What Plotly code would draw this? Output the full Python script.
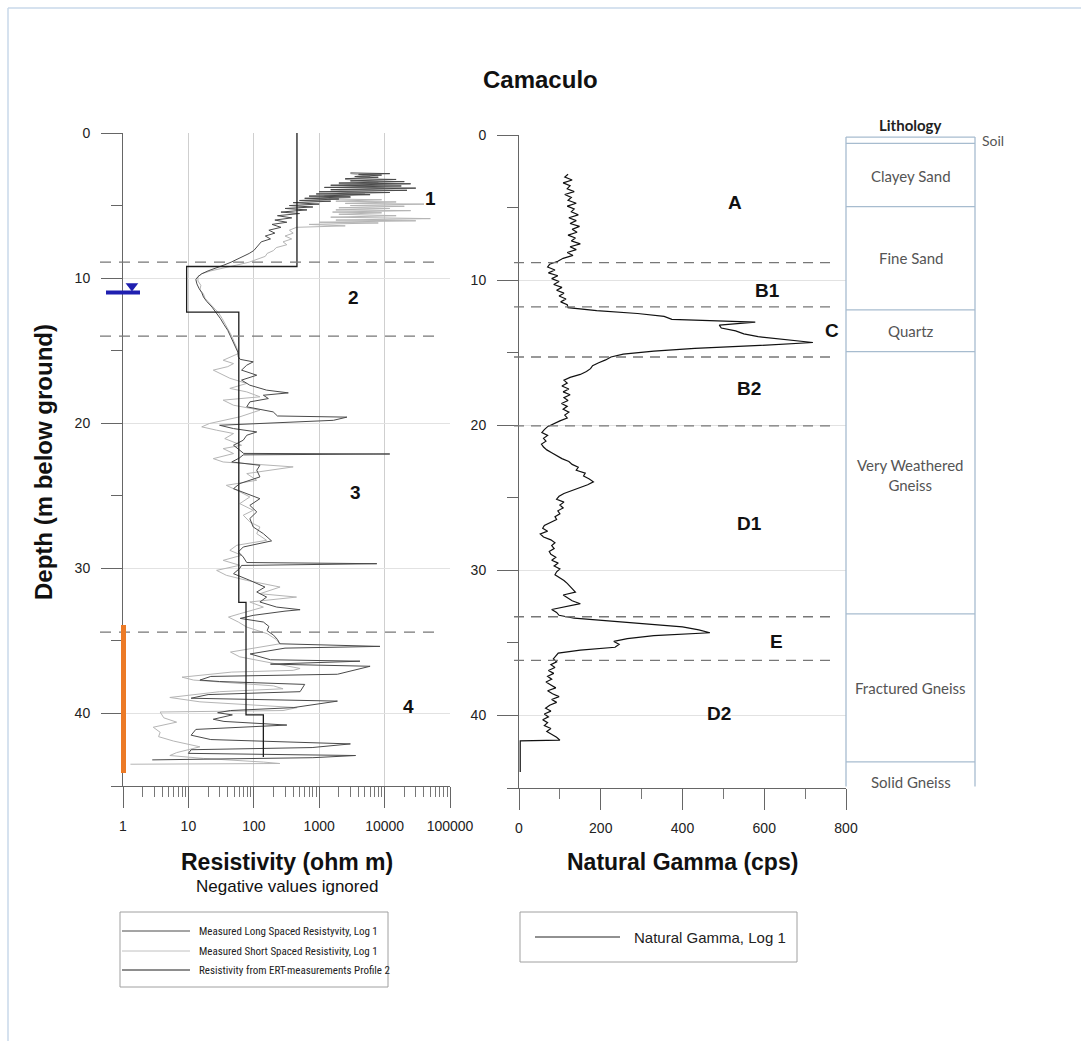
import plotly.graph_objects as go

# ---------------- borehole log data ----------------
# Long spaced resistivity (ohm m) versus depth (m)
LONG_DEPTH = [2.75, 2.8, 2.85, 2.9, 3.0, 3.05, 3.15, 3.2, 3.3, 3.35, 3.45, 3.5, 3.6, 3.65, 3.75, 3.8,
              3.9, 3.95, 4.05, 4.1, 4.2, 4.25, 4.35, 4.4, 4.5, 4.55, 4.65, 4.7, 4.8, 4.9, 5.0, 5.1,
              5.2, 5.3, 5.45, 5.55, 5.7, 5.85, 6.0, 6.15, 6.3, 6.5, 6.7, 6.9, 7.1, 7.3, 7.5, 7.7,
              7.9, 8.1, 8.3, 8.5, 8.7, 8.9, 9.1, 9.3, 9.5, 9.7, 9.9, 10.1, 10.4, 10.7, 11.0, 11.3,
              11.6, 12.0, 12.4, 12.8, 13.2, 13.6, 14.0, 14.4, 14.8, 15.1,
              15.43, 15.6, 15.77, 16.0, 16.34, 16.69, 17.03, 17.38, 17.72, 17.91, 18.07, 18.3, 18.53,
              18.87, 19.22, 19.5, 19.58, 19.8, 20.14, 20.37, 20.6, 20.83, 21.17, 21.52, 21.86, 22.08,
              22.12, 22.18, 22.4, 22.67, 22.9, 23.24, 23.7, 24.16, 24.51, 24.85, 25.2, 25.66, 26.11,
              26.57, 27.15, 27.61, 28.11, 28.53, 28.87, 29.22, 29.6, 29.68, 29.8, 30.0, 30.37, 30.83,
              31.29, 31.63, 31.98, 32.32, 32.67, 32.85, 32.95, 33.24, 33.45, 33.7, 34.0, 34.3, 34.6,
              34.9, 35.2, 35.38, 35.5, 35.9, 36.3, 36.4, 36.6, 36.75, 37.3, 37.45, 37.7, 37.8, 38.0,
              38.5, 38.7, 38.95, 39.15, 39.6, 39.8, 39.95, 40.1, 40.4, 40.55, 40.8, 41.1, 41.5, 41.8,
              42.1, 42.35, 42.5, 42.75, 42.9, 43.05, 43.2]
LONG_RES = [3000, 12000, 4000, 9000, 3500, 8000, 2500, 15000, 3000, 20000, 2000, 25000, 1500, 18000,
            1200, 30000, 1500, 22000, 1000, 12000, 900, 6000, 700, 3000, 600, 2000, 500, 1500, 400,
            1000, 350, 800, 300, 650, 260, 500, 230, 380, 210, 320, 190, 260, 170, 210, 150, 180, 130,
            120, 110, 100, 85, 70, 55, 45, 35, 26, 20, 16, 14, 13, 13.5, 14.5, 16, 17, 19, 23, 27, 31,
            35, 40, 44, 48, 53, 57,
            58, 62, 98, 78, 65, 111, 65, 87, 157, 337, 140, 167, 87, 78, 198, 230, 2650, 1650, 30, 49,
            111, 78, 69, 49, 61, 70, 12000, 69, 60, 46, 124, 111, 124, 61, 49, 78, 124, 87, 111, 87,
            98, 140, 187, 69, 58, 69, 78, 7600, 65, 61, 49, 87, 148, 111, 157, 124, 224, 510, 300, 98,
            62, 140, 170, 160, 200, 230, 250, 8500, 300, 88, 180, 4200, 180, 6000, 1900, 22, 15, 30,
            600, 510, 20, 11, 1900, 400, 44, 28, 47, 24, 35, 320, 13, 11, 22, 3000, 780, 11, 10, 3600,
            800, 2.8]

# Short spaced resistivity (ohm m) versus depth (m)
SHORT_DEPTH = [2.8, 3.0, 3.2, 3.4, 3.6, 3.8, 4.0, 4.2, 4.35, 4.45, 4.55, 4.6, 4.7, 4.75, 4.85, 4.9,
               5.0, 5.05, 5.15, 5.2, 5.3, 5.35, 5.45, 5.5, 5.6, 5.7, 5.8, 5.9, 6.0, 6.05, 6.15, 6.2,
               6.3, 6.4, 6.5, 6.7, 6.9, 7.1, 7.3, 7.5, 7.7, 7.9, 8.1, 8.3, 8.5, 8.7, 8.9, 9.1, 9.3,
               9.5, 9.7, 9.9, 10.2, 10.5, 10.8, 11.1, 11.4, 11.7, 12.0, 12.4, 12.8, 13.2, 13.6, 14.0,
               14.4, 14.8, 15.2,
               15.66, 15.89, 16.1, 16.34, 16.57, 16.9, 17.26, 17.6, 17.84, 18.18, 18.41, 18.76, 19.1,
               19.56, 20.02, 20.25, 20.48, 20.71, 21.06, 21.52, 21.75, 22.09, 22.44, 22.67, 23.01,
               23.24, 23.47, 23.93, 24.28, 24.62, 25.08, 25.54, 26.0, 26.34, 26.8, 27.15, 27.61, 28.07,
               28.41, 28.76, 29.1, 29.45, 29.79, 30.14, 30.48, 30.83, 31.29, 31.75, 31.98, 32.32,
               32.67, 33.13, 33.36, 33.7, 34.05, 34.5, 34.9, 35.2, 35.77, 36.1, 36.6, 36.9, 37.03,
               37.15, 37.5, 37.7, 38.1, 38.3, 38.5, 38.9, 39.2, 39.6, 39.8, 39.9, 40.3, 40.6, 40.95,
               41.3, 41.6, 41.9, 42.3, 42.7, 42.9, 43.1, 43.35, 43.45, 43.5]
SHORT_RES = [3000, 6000, 2500, 8000, 2000, 10000, 1500, 5000, 1200, 3000, 1400, 9000, 1800, 15000,
             2500, 40000, 3000, 20000, 2000, 12000, 1800, 25000, 1600, 9000, 2000, 15000, 1500, 50000,
             1800, 30000, 1000, 8000, 700, 2500, 450, 350, 400, 300, 380, 280, 320, 220, 200, 160, 150,
             115, 85, 55, 35, 22, 16, 14, 14, 15.5, 15, 17, 18, 21, 24, 29, 33, 37, 42, 46, 50, 55, 58,
             34, 49, 40, 24, 30, 43, 78, 43, 78, 124, 34, 49, 124, 61, 21, 16, 27, 49, 36, 65, 34, 49,
             24, 34, 400, 180, 78, 111, 38, 55, 87, 61, 98, 69, 87, 124, 111, 157, 55, 43, 65, 34, 61,
             27, 38, 78, 252, 124, 450, 87, 140, 61, 41, 58, 78, 160, 220, 250, 44, 61, 250, 510, 400,
             46, 8, 12, 200, 280, 30, 5.2, 15, 460, 280, 3.7, 4.2, 6.6, 2.9, 3.7, 3.5, 5.9, 15, 6.6,
             5.2, 17, 140, 250, 1.3]

# Resistivity from ERT profile 2: layer tops, bottoms and values
ERT_TOP = [0.0, 9.2, 12.35, 32.35, 40.1]
ERT_BOTTOM = [9.2, 12.35, 32.35, 40.1, 43.0]
ERT_RES = [457, 9.4, 59, 76, 140]

# Natural gamma (cps), sampled every 0.2 m from 2.7 m
GAMMA_START = 2.7
GAMMA_STEP = 0.2
GAMMA_CPS = [120, 112, 130, 108, 125, 118, 135, 112, 128, 120, 140, 118, 135, 128, 145, 122, 140, 125,
             148, 130, 142, 120, 138, 128, 150, 125, 140, 118, 132, 108, 95,
             75, 70, 88, 72, 95, 80, 98, 85, 105, 92, 110, 98, 115, 102, 118,
             120, 190, 290, 355, 374, 578, 490, 495, 530, 550, 585, 660, 719, 590, 430, 330, 255, 225,
             212, 195, 180, 175, 165, 150, 125, 110,
             118, 105, 122, 108, 125, 110, 120, 104, 118, 108, 122, 112, 118, 100, 85,
             70, 62, 56, 70, 60, 66, 55, 60, 68, 80, 92, 105, 122, 130, 145, 140, 162, 158, 172, 182,
             168, 150, 128, 110, 98, 92, 110, 100, 108, 95, 100, 88, 92, 75, 62, 58, 70, 52, 60, 78,
             88, 80, 86, 74, 78, 90, 80, 96, 86, 100, 92, 88, 100, 110, 118, 125, 132, 138, 108, 118,
             130, 150, 110, 80, 92, 98, 135,
             230, 315, 400, 440, 467, 330, 265, 232, 245, 235, 150, 96, 90, 84, 92, 78, 88, 72, 85, 70,
             80, 66, 78, 90, 70, 82, 98, 80, 92, 75, 65, 78, 62, 72, 58, 70, 62, 78, 68, 82, 92, 100]
GAMMA_TAIL_DEPTH = [41.75, 43.9]
GAMMA_TAIL_CPS = [3, 3]

# Interpreted zone boundaries (m)
RES_ZONE_BOUNDS = [8.9, 14.0, 34.4]
GAMMA_ZONE_BOUNDS = [8.8, 11.85, 15.3, 20.05, 33.2, 36.2]

# Lithology column
LITH_TOPS = [0.14, 0.58, 4.93, 12.05, 14.93, 33.0, 43.2]
LITH_BASE = 44.9
LITH_NAMES = ["Clayey Sand", "Fine Sand", "Quartz", "Very Weathered<br>Gneiss",
              "Fractured Gneiss", "Solid Gneiss"]
LITH_LABEL_DEPTH = [2.8, 8.5, 13.5, 23.4, 38.1, 44.6]

WATER_LEVEL = 11.0
SCREEN_TOP, SCREEN_BOTTOM = 33.9, 44.1

RES_TICKS = [1, 10, 100, 1000, 10000, 100000]
RES_TICK_TEXT = ["1", "10", "100", "1000", "10000", "100000"]
GAMMA_TICKS = [0, 200, 400, 600, 800]
DEPTH_TICKS = [0, 10, 20, 30, 40]

# ---------------- page geometry helpers ----------------
W, H = 1081, 1041


def px(x):
    return x / W


def py(y):
    return 1 - y / H


ARIAL = "Liberation Sans, Arial, sans-serif"
NARROW = "Liberation Sans Narrow, Arial Narrow, Roboto Condensed, Liberation Sans, sans-serif"
CALIBRI = "Lato, Open Sans, sans-serif"

fig = go.Figure()

fig.add_trace(go.Scatter(x=SHORT_RES, y=SHORT_DEPTH, mode="lines",
                         line=dict(color="#b5b5b5", width=1), xaxis="x", yaxis="y",
                         showlegend=False, hoverinfo="skip"))
fig.add_trace(go.Scatter(x=LONG_RES, y=LONG_DEPTH, mode="lines",
                         line=dict(color="#4a4a4a", width=1), xaxis="x", yaxis="y",
                         showlegend=False, hoverinfo="skip"))

ert_x, ert_y = [], []
for top, bot, val in zip(ERT_TOP, ERT_BOTTOM, ERT_RES):
    ert_x += [val, val]
    ert_y += [top, bot]
fig.add_trace(go.Scatter(x=ert_x, y=ert_y, mode="lines",
                         line=dict(color="#1c1c1c", width=1.3), xaxis="x", yaxis="y",
                         showlegend=False, hoverinfo="skip"))

gamma_depth = [round(GAMMA_START + GAMMA_STEP * i, 2) for i in range(len(GAMMA_CPS))]
fig.add_trace(go.Scatter(x=GAMMA_CPS + GAMMA_TAIL_CPS, y=gamma_depth + GAMMA_TAIL_DEPTH,
                         mode="lines", line=dict(color="#111111", width=1.2),
                         xaxis="x2", yaxis="y2", showlegend=False, hoverinfo="skip"))

# water level symbol
fig.add_trace(go.Scatter(x=[1.37], y=[WATER_LEVEL - 0.45], mode="markers",
                         marker=dict(symbol="triangle-down", size=11, color="#1f1fb0"),
                         cliponaxis=False, xaxis="x", yaxis="y", showlegend=False,
                         hoverinfo="skip"))

tickfont = dict(family=ARIAL, size=14, color="#222")
common_y = dict(range=[45, 0], tickvals=DEPTH_TICKS, ticks="outside", ticklen=21,
                tickcolor="#666", showline=True, linecolor="#666", linewidth=1,
                showgrid=True, gridcolor="#e2e2e2", gridwidth=1, zeroline=False,
                tickfont=tickfont, ticklabelstandoff=8, automargin=False,
                minor=dict(tickvals=[5, 15, 25, 35, 45], ticks="outside", ticklen=11,
                           tickcolor="#666", showgrid=False))

fig.update_layout(
    template="none",
    width=W, height=H, autosize=False, margin=dict(l=0, r=0, t=0, b=0, pad=0),
    paper_bgcolor="white", plot_bgcolor="white",
    xaxis=dict(type="log", domain=[px(123), px(450)], range=[0, 5], anchor="y",
               tickvals=RES_TICKS, ticktext=RES_TICK_TEXT, ticks="outside", ticklen=21,
               tickcolor="#666", showline=True, linecolor="#666", linewidth=1,
               showgrid=True, gridcolor="#cfcfcf", zeroline=False, tickfont=tickfont,
               ticklabelstandoff=6, automargin=False,
               minor=dict(tickvals=[m * 10 ** k for k in range(5) for m in range(2, 10)],
                          ticks="outside", ticklen=10, tickcolor="#777", showgrid=False)),
    yaxis=dict(domain=[py(786), py(133)], anchor="x", **common_y),
    xaxis2=dict(domain=[px(519), px(846)], range=[0, 800], anchor="y2",
                tickvals=GAMMA_TICKS, ticks="outside", ticklen=21, tickcolor="#666",
                showline=True, linecolor="#666", linewidth=1, showgrid=False,
                zeroline=False, tickfont=tickfont, ticklabelstandoff=6, automargin=False,
                minor=dict(tickvals=[100, 300, 500, 700], ticks="outside", ticklen=10,
                           tickcolor="#777", showgrid=False)),
    yaxis2=dict(domain=[py(788), py(135)], anchor="x2", **common_y),
)

shapes = []
# page frame (left and top edges)
shapes.append(dict(type="line", xref="paper", yref="paper", x0=px(8), x1=px(8),
                   y0=0, y1=py(8), line=dict(color="#c9d8ea", width=1.5)))
shapes.append(dict(type="line", xref="paper", yref="paper", x0=px(8), x1=1,
                   y0=py(8), y1=py(8), line=dict(color="#c9d8ea", width=1.5)))
# zone boundaries
for d in RES_ZONE_BOUNDS:
    shapes.append(dict(type="line", xref="paper", yref="y", x0=px(100), x1=px(438), y0=d, y1=d,
                       line=dict(color="#777", width=1.3, dash="11px,8px")))
for d in GAMMA_ZONE_BOUNDS:
    shapes.append(dict(type="line", xref="paper", yref="y2", x0=px(514), x1=px(833), y0=d, y1=d,
                       line=dict(color="#777", width=1.3, dash="10px,7px")))
# water level bar
shapes.append(dict(type="line", xref="paper", yref="y", x0=px(106), x1=px(140),
                   y0=WATER_LEVEL, y1=WATER_LEVEL, line=dict(color="#1f1fb0", width=4)))
# screened interval
shapes.append(dict(type="line", xref="paper", yref="y", x0=px(123.5), x1=px(123.5),
                   y0=SCREEN_TOP, y1=SCREEN_BOTTOM, line=dict(color="#ec7a26", width=5)))
# lithology column
lith_col = "#a7bccf"
for xx in (846, 975):
    shapes.append(dict(type="line", xref="paper", yref="y2", x0=px(xx), x1=px(xx),
                       y0=LITH_TOPS[0], y1=LITH_BASE, line=dict(color=lith_col, width=1.3)))
for d in LITH_TOPS:
    shapes.append(dict(type="line", xref="paper", yref="y2", x0=px(846), x1=px(975),
                       y0=d, y1=d, line=dict(color=lith_col, width=1.3)))
# legend boxes
shapes.append(dict(type="rect", xref="paper", yref="paper", x0=px(120), x1=px(388),
                   y0=py(987), y1=py(912), line=dict(color="#a0a0a0", width=1)))
shapes.append(dict(type="rect", xref="paper", yref="paper", x0=px(520), x1=px(797),
                   y0=py(962), y1=py(912), line=dict(color="#a0a0a0", width=1)))
legend_rows = [("Measured Long Spaced Resistyvity, Log 1", "#4a4a4a", 931),
               ("Measured Short Spaced Resistivity, Log 1", "#c0c0c0", 951),
               ("Resistivity from ERT-measurements Profile 2", "#1c1c1c", 970)]
for _, col, yy in legend_rows:
    shapes.append(dict(type="line", xref="paper", yref="paper", x0=px(122), x1=px(190),
                       y0=py(yy), y1=py(yy), line=dict(color=col, width=1)))
shapes.append(dict(type="line", xref="paper", yref="paper", x0=px(535), x1=px(620),
                   y0=py(937), y1=py(937), line=dict(color="#222", width=1)))

annotations = []


def text(x, y, s, size, bold=False, family=ARIAL, color="#111", xanchor="center", **kw):
    annotations.append(dict(xref="paper", yref="paper", x=px(x), y=py(y),
                            text=f"<b>{s}</b>" if bold else s, showarrow=False,
                            font=dict(family=family, size=size, color=color),
                            xanchor=xanchor, yanchor="middle", **kw))


text(540, 80, "Camaculo", 24, bold=True)
text(43, 462, "Depth (m below ground)", 24, bold=True, textangle=-90)
text(287, 862, "Resistivity (ohm m)", 23, bold=True)
text(287, 886, "Negative values ignored", 17)
text(682, 862, "Natural Gamma (cps)", 23, bold=True)

for lab, x, y in [("1", 430, 198), ("2", 353, 297), ("3", 355, 492), ("4", 408, 706),
                  ("A", 735, 203), ("B1", 767, 290), ("C", 832, 330), ("B2", 749, 389),
                  ("D1", 749, 523), ("E", 776, 641), ("D2", 719, 713)]:
    text(x, y, lab, 19, bold=True)

for lab, _, yy in legend_rows:
    text(197, yy, lab, 11, family=NARROW, color="#222", xanchor="left")
text(632, 937, "Natural Gamma, Log 1", 15, family=ARIAL, color="#222", xanchor="left")

# lithology labels
text(910, 125, "Lithology", 15, bold=True, family=CALIBRI, color="#222")
text(980, 141, "Soil", 14, family=CALIBRI, color="#555", xanchor="left")
for name, d in zip(LITH_NAMES, LITH_LABEL_DEPTH):
    annotations.append(dict(xref="paper", yref="y2", x=px(910.5), y=d, text=name,
                            showarrow=False, xanchor="center", yanchor="middle",
                            font=dict(family=CALIBRI, size=15, color="#555")))

fig.update_layout(shapes=shapes, annotations=annotations)
fig.write_html(
    "out.html",
    config={"responsive": False},
    post_script="document.body.style.margin='0';document.body.style.overflow='hidden';",
)
